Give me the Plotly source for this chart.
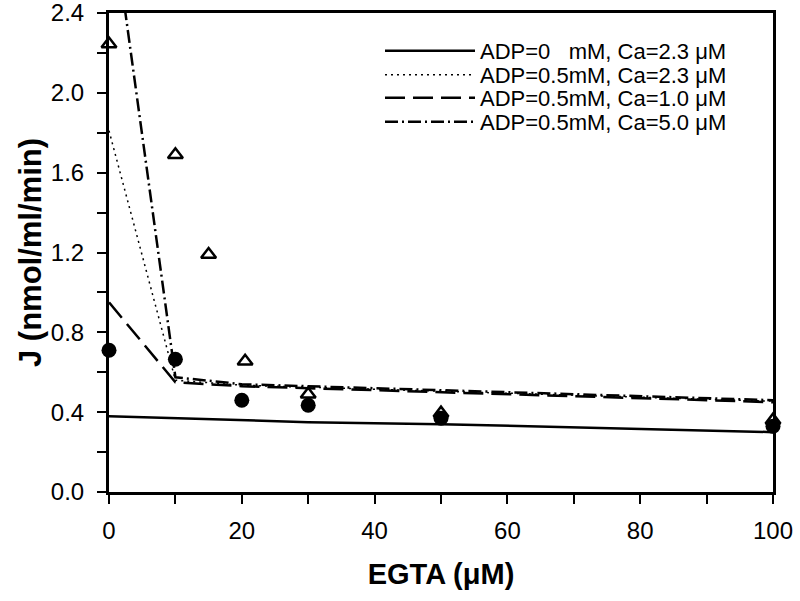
import plotly.graph_objects as go

# EGTA concentrations (µM)
egta_model = [0, 10, 20, 30, 50, 100]

# model curves (J, nmol/ml/min)
j_adp0_ca23 = [0.38, 0.37, 0.36, 0.35, 0.34, 0.30]
j_adp05_ca23 = [1.81, 0.56, 0.535, 0.525, 0.505, 0.455]
j_adp05_ca10 = [0.95, 0.55, 0.53, 0.52, 0.50, 0.45]
j_adp05_ca50 = [3.00, 0.575, 0.54, 0.53, 0.51, 0.46]

# measured points
egta_circles = [0, 10, 20, 30, 50, 100]
j_circles = [0.71, 0.665, 0.46, 0.435, 0.37, 0.33]
egta_triangles = [0, 10, 15, 20.5, 30, 50, 100]
j_triangles = [2.245, 1.69, 1.19, 0.655, 0.49, 0.395, 0.36]

legend_names = [
    "ADP=0\u00a0\u00a0\u00a0mM, Ca=2.3 \u03bcM",
    "ADP=0.5mM, Ca=2.3 \u03bcM",
    "ADP=0.5mM, Ca=1.0 \u03bcM",
    "ADP=0.5mM, Ca=5.0 \u03bcM",
]

font = "Liberation Sans, Arial, sans-serif"
W, H = 800, 601
L, R, T, B = 109, 27, 13, 109
plot_w = W - L - R
plot_h = H - T - B

fig = go.Figure()
styles = [
    dict(width=2.5, dash="solid"),
    dict(width=1.5, dash="2px,4px"),
    dict(width=2.5, dash="20px,8px"),
    dict(width=2.5, dash="13px,4px,2px,4px"),
]
series = [j_adp0_ca23, j_adp05_ca23, j_adp05_ca10, j_adp05_ca50]
legend_ids = ["legend", "legend2", "legend3", "legend4"]
for name, ys, st, lg in zip(legend_names, series, styles, legend_ids):
    fig.add_trace(go.Scatter(x=egta_model, y=ys, mode="lines", name=name, legend=lg,
                             line=dict(color="black", **st)))

fig.add_trace(go.Scatter(x=egta_circles, y=j_circles, mode="markers", showlegend=False,
                         marker=dict(symbol="circle", size=15, color="black"), cliponaxis=False))
fig.add_trace(go.Scatter(x=egta_triangles, y=j_triangles, mode="markers", showlegend=False,
                         marker=dict(symbol="triangle-up-open", size=13, color="black",
                                     line=dict(width=2.5, color="black")), cliponaxis=False))

row_px = [51, 75, 98, 122]
legend_cfg = {}
for lg, rp in zip(legend_ids, row_px):
    legend_cfg[lg] = dict(x=(380 - L) / plot_w, y=1 - (rp - T) / plot_h,
                          xanchor="left", yanchor="middle",
                          bgcolor="rgba(0,0,0,0)", font=dict(size=22, family=font),
                          itemwidth=90)

fig.update_layout(
    width=W, height=H,
    margin=dict(l=L, r=R, t=T, b=B),
    plot_bgcolor="white", paper_bgcolor="white",
    font=dict(family=font, size=21, color="black"),
    showlegend=True,
    **legend_cfg,
)
fig.update_xaxes(
    range=[0, 100], tickvals=[0, 20, 40, 60, 80, 100],
    ticks="outside", ticklen=9, tickwidth=2, tickcolor="black", ticklabelstandoff=6,
    minor=dict(tickvals=[10, 30, 50, 70, 90], ticks="outside", ticklen=9, tickwidth=2, tickcolor="black"),
    showline=True, linewidth=3, linecolor="black", mirror=True,
    showgrid=False, zeroline=False, automargin=False, ticklabeloverflow="allow",
    title=dict(text="<b>EGTA (\u03bcM)</b>", font=dict(size=29), standoff=21),
    tickfont=dict(size=24),
)
fig.update_yaxes(
    range=[0, 2.4], tickvals=[0, 0.4, 0.8, 1.2, 1.6, 2.0, 2.4], tickformat=".1f",
    ticks="outside", ticklen=9, tickwidth=2, tickcolor="black", ticklabelstandoff=8,
    minor=dict(tickvals=[0.2, 0.6, 1.0, 1.4, 1.8, 2.2], ticks="outside", ticklen=9, tickwidth=2, tickcolor="black"),
    showline=True, linewidth=3, linecolor="black", mirror=True,
    showgrid=False, zeroline=False, automargin=False, ticklabeloverflow="allow",
    title=dict(text="<b>J (nmol/ml/min)</b>", font=dict(size=31), standoff=0),
    tickfont=dict(size=24),
)

fig.write_html("out.html", config={"displayModeBar": False},
               post_script="document.body.style.margin='0';document.body.style.overflow='hidden';")
